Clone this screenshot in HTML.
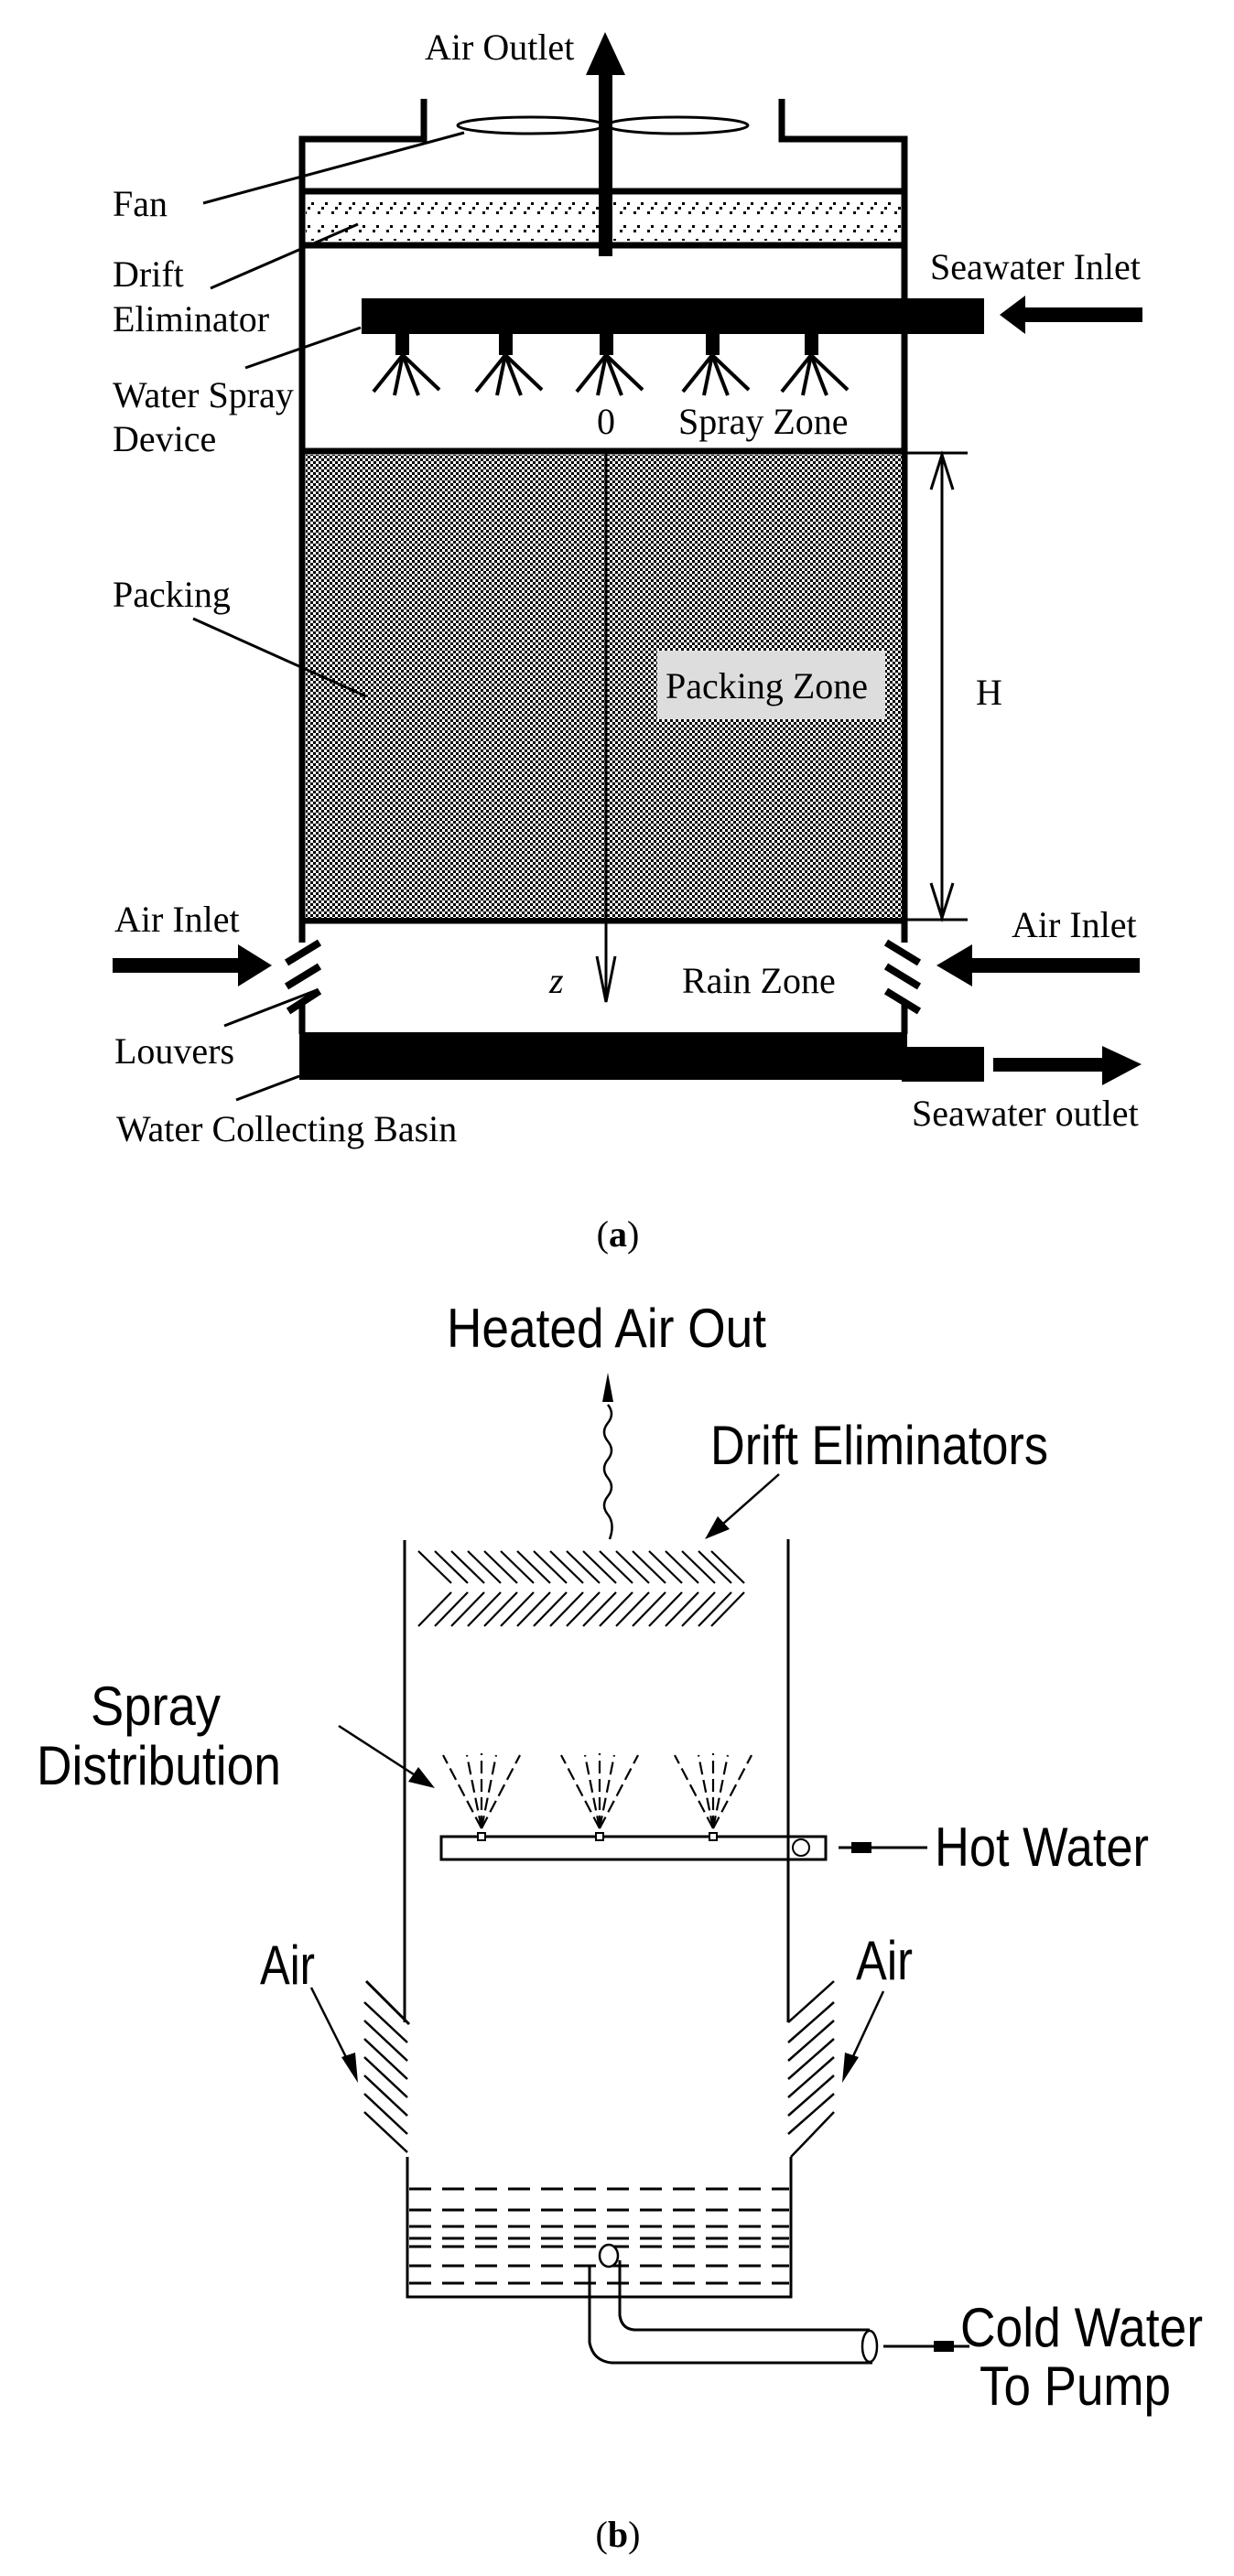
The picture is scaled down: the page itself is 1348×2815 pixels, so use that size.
<!DOCTYPE html>
<html><head><meta charset="utf-8"><style>
html,body{margin:0;padding:0;background:#fff}
svg{display:block}
.t{font-family:"Liberation Serif",serif;font-size:40px;fill:#000}
.s{font-family:"Liberation Sans",sans-serif;fill:#000}
</style></head><body>
<svg width="1348" height="2815" viewBox="0 0 1348 2815" xmlns="http://www.w3.org/2000/svg">
<defs>
<pattern id="chk" width="6" height="6" patternUnits="userSpaceOnUse">
<rect width="6" height="6" fill="#fff"/><rect width="3" height="3" fill="#000"/><rect x="3" y="3" width="3" height="3" fill="#000"/>
</pattern>
<pattern id="drift" width="15" height="20" patternUnits="userSpaceOnUse">
<g fill="#000"><rect x="10" y="1" width="3" height="3"/><rect x="6" y="6" width="3" height="3"/><rect x="2" y="11" width="3" height="3"/></g>
</pattern>
</defs>

<!-- ===== (a) ===== -->
<g stroke="#000" fill="none" stroke-width="7">
<polyline points="330,1030 330,152 463,152 463,108"/>
<polyline points="988,1030 988,152 854,152 854,108"/>
<line x1="330" y1="1097" x2="330" y2="1130"/>
<line x1="988" y1="1093" x2="988" y2="1130"/>
<line x1="330" y1="209" x2="988" y2="209"/>
<line x1="330" y1="268" x2="988" y2="268"/>
<line x1="330" y1="493" x2="988" y2="493"/>
<line x1="330" y1="1006" x2="988" y2="1006"/>
</g>
<rect x="334" y="216" width="650" height="19" fill="url(#drift)"/>
<rect x="334" y="245" width="650" height="18" fill="url(#drift)"/>
<rect x="334" y="497" width="651" height="506" fill="url(#chk)"/>
<ellipse cx="580" cy="137" rx="80" ry="9" fill="#fff" stroke="#000" stroke-width="3"/>
<ellipse cx="740" cy="137" rx="77" ry="9" fill="#fff" stroke="#000" stroke-width="3"/>
<rect x="654" y="78" width="15" height="202" fill="#000"/>
<polygon points="661,35 640,82 683,82" fill="#000"/>
<text class="t" x="464" y="65">Air Outlet</text>
<rect x="395" y="326" width="680" height="39" fill="#000"/>
<g fill="#000"><rect x="432" y="360" width="15" height="28"/><rect x="545" y="360" width="15" height="28"/><rect x="655" y="360" width="15" height="28"/><rect x="771" y="360" width="15" height="28"/><rect x="879" y="360" width="15" height="28"/></g>
<g stroke="#000" stroke-width="4">
<g id="nz"><line x1="440" y1="388" x2="408" y2="428"/><line x1="440" y1="388" x2="431" y2="432"/><line x1="440" y1="388" x2="457" y2="432"/><line x1="440" y1="388" x2="480" y2="426"/></g>
<use href="#nz" x="112"/><use href="#nz" x="222"/><use href="#nz" x="338"/><use href="#nz" x="446"/>
</g>
<text class="t" x="652" y="474">0</text>
<text class="t" x="741" y="474">Spray Zone</text>
<line x1="662" y1="493" x2="662" y2="1093" stroke="#000" stroke-width="3"/>
<polyline points="652,1045 662,1095 672,1045" fill="none" stroke="#000" stroke-width="3"/>
<rect x="718" y="711" width="249" height="75" fill="#ddd"/>
<text class="t" x="727" y="763">Packing Zone</text>
<g stroke="#000" stroke-width="3" fill="none">
<line x1="988" y1="495" x2="1057" y2="495"/><line x1="988" y1="1005" x2="1057" y2="1005"/>
<line x1="1029" y1="497" x2="1029" y2="1003"/>
<polyline points="1017,535 1029,497 1041,535"/><polyline points="1017,965 1029,1003 1041,965"/>
</g>
<text class="t" x="1066" y="770">H</text>
<g stroke="#000" stroke-width="3">
<line x1="222" y1="222" x2="507" y2="145"/>
<line x1="230" y1="315" x2="391" y2="245"/>
<line x1="268" y1="402" x2="394" y2="358"/>
<line x1="211" y1="676" x2="400" y2="761"/>
<line x1="245" y1="1121" x2="346" y2="1082"/>
<line x1="258" y1="1202" x2="327" y2="1176"/>
</g>
<text class="t" x="123" y="236">Fan</text>
<text class="t" x="123" y="313">Drift</text>
<text class="t" x="123" y="362">Eliminator</text>
<text class="t" x="123" y="445">Water Spray</text>
<text class="t" x="123" y="493">Device</text>
<text class="t" x="123" y="663">Packing</text>
<text class="t" x="1016" y="305">Seawater Inlet</text>
<rect x="1118" y="336" width="130" height="16" fill="#000"/>
<polygon points="1092,344 1120,323 1120,365" fill="#000"/>
<g stroke="#000" stroke-width="8">
<line x1="313" y1="1052" x2="349" y2="1030"/><line x1="313" y1="1078" x2="349" y2="1056"/><line x1="315" y1="1105" x2="349" y2="1083"/>
<line x1="968" y1="1030" x2="1004" y2="1052"/><line x1="968" y1="1056" x2="1004" y2="1078"/><line x1="968" y1="1083" x2="1004" y2="1105"/>
</g>
<text class="t" x="125" y="1018">Air Inlet</text>
<rect x="123" y="1047" width="140" height="16" fill="#000"/>
<polygon points="297,1055 260,1032 260,1078" fill="#000"/>
<text class="t" x="1105" y="1024">Air Inlet</text>
<rect x="1060" y="1047" width="185" height="16" fill="#000"/>
<polygon points="1023,1055 1062,1032 1062,1078" fill="#000"/>
<text class="t" x="600" y="1085" font-style="italic">z</text>
<text class="t" x="745" y="1085">Rain Zone</text>
<rect x="327" y="1128" width="664" height="52" fill="#000"/>
<rect x="985" y="1144" width="90" height="38" fill="#000"/>
<rect x="1085" y="1156" width="122" height="15" fill="#000"/>
<polygon points="1247,1163 1204,1143 1204,1186" fill="#000"/>
<text class="t" x="125" y="1162">Louvers</text>
<text class="t" x="127" y="1247">Water Collecting Basin</text>
<text class="t" x="996" y="1230">Seawater outlet</text>
<text class="t" x="675" y="1362" text-anchor="middle" font-size="78">(<tspan font-weight="bold">a</tspan>)</text>

<!-- ===== (b) ===== -->
<text class="s" x="488" y="1472" font-size="60" textLength="349" lengthAdjust="spacingAndGlyphs">Heated Air Out</text>
<path d="M664,1535 q8,10 0,20 q-8,10 0,20 q8,10 0,20 q-8,10 0,20 q8,10 0,20 q-8,10 0,20 q8,10 2,27" fill="none" stroke="#000" stroke-width="2.5"/>
<polygon points="664,1500 658,1532 670,1532" fill="#000"/>
<text class="s" x="776" y="1600" font-size="60" textLength="369" lengthAdjust="spacingAndGlyphs">Drift Eliminators</text>
<line x1="851" y1="1611" x2="790" y2="1665" stroke="#000" stroke-width="2.5"/>
<polygon points="770,1682 784,1657 797,1671" fill="#000"/>
<g stroke="#000" stroke-width="3" fill="none">
<line x1="442" y1="1683" x2="442" y2="2210"/>
<line x1="861" y1="1682" x2="861" y2="2210"/>
<polyline points="400,2165 447,2212"/>
</g>
<g stroke="#000" stroke-width="2.2" fill="none" id="chev">
<polyline points="457,1695 493,1730"/><polyline points="493,1740 457,1777"/>
</g>
<g stroke="#000" stroke-width="2.2">
<use href="#chev" x="18"/><use href="#chev" x="36"/><use href="#chev" x="54"/><use href="#chev" x="72"/><use href="#chev" x="90"/><use href="#chev" x="108"/><use href="#chev" x="126"/><use href="#chev" x="144"/><use href="#chev" x="162"/><use href="#chev" x="180"/><use href="#chev" x="198"/><use href="#chev" x="216"/><use href="#chev" x="234"/><use href="#chev" x="252"/><use href="#chev" x="270"/><use href="#chev" x="288"/><use href="#chev" x="306"/><use href="#chev" x="320"/>
</g>
<text class="s" x="99" y="1885" font-size="60" textLength="142" lengthAdjust="spacingAndGlyphs">Spray</text>
<text class="s" x="40" y="1950" font-size="60" textLength="267" lengthAdjust="spacingAndGlyphs">Distribution</text>
<line x1="370" y1="1886" x2="455" y2="1941" stroke="#000" stroke-width="2.5"/>
<polygon points="475,1954 446,1947 457,1931" fill="#000"/>
<g stroke="#000" stroke-width="2.2" stroke-dasharray="14,6" fill="none" id="fan">
<line x1="526" y1="1998" x2="484" y2="1918"/><line x1="526" y1="1998" x2="510" y2="1918"/><line x1="526" y1="1998" x2="526" y2="1916"/><line x1="526" y1="1998" x2="542" y2="1918"/><line x1="526" y1="1998" x2="568" y2="1918"/>
</g>
<use href="#fan" x="129"/><use href="#fan" x="253"/>
<rect x="482" y="2007" width="420" height="25" fill="none" stroke="#000" stroke-width="3"/>
<g fill="#fff" stroke="#000" stroke-width="2"><rect x="522" y="2003" width="8" height="8"/><rect x="651" y="2003" width="8" height="8"/><rect x="775" y="2003" width="8" height="8"/><circle cx="875" cy="2019" r="9"/></g>
<line x1="916" y1="2019" x2="1013" y2="2019" stroke="#000" stroke-width="3"/>
<rect x="930" y="2013" width="22" height="12" fill="#000"/>
<text class="s" x="1021" y="2039" font-size="60" textLength="234" lengthAdjust="spacingAndGlyphs">Hot Water</text>
<text class="s" x="284" y="2168" font-size="60" textLength="60" lengthAdjust="spacingAndGlyphs">Air</text>
<text class="s" x="935" y="2163" font-size="60" textLength="62" lengthAdjust="spacingAndGlyphs">Air</text>
<line x1="340" y1="2172" x2="385" y2="2262" stroke="#000" stroke-width="2.5"/>
<polygon points="391,2276 373,2248 388,2243" fill="#000"/>
<line x1="965" y1="2176" x2="925" y2="2262" stroke="#000" stroke-width="2.5"/>
<polygon points="920,2276 923,2243 938,2248" fill="#000"/>
<g stroke="#000" stroke-width="2.5">
<line x1="398" y1="2188" x2="445" y2="2232"/><line x1="398" y1="2208" x2="445" y2="2252"/><line x1="398" y1="2228" x2="445" y2="2272"/><line x1="398" y1="2248" x2="445" y2="2292"/><line x1="398" y1="2268" x2="445" y2="2312"/><line x1="398" y1="2288" x2="445" y2="2332"/><line x1="398" y1="2308" x2="445" y2="2352"/>
</g>
<g stroke="#000" stroke-width="2.5">
<line x1="911" y1="2165" x2="861" y2="2210"/>
<line x1="911" y1="2188" x2="861" y2="2232"/><line x1="911" y1="2208" x2="861" y2="2252"/><line x1="911" y1="2228" x2="861" y2="2272"/><line x1="911" y1="2248" x2="861" y2="2292"/><line x1="911" y1="2268" x2="861" y2="2312"/><line x1="911" y1="2288" x2="861" y2="2332"/><line x1="911" y1="2308" x2="864" y2="2357"/>
</g>
<polyline points="445,2357 445,2510 864,2510 864,2357" fill="none" stroke="#000" stroke-width="3"/>
<g stroke="#000" stroke-width="3" stroke-dasharray="24,12">
<line x1="447" y1="2392" x2="862" y2="2392"/><line x1="447" y1="2415" x2="862" y2="2415"/><line x1="447" y1="2433" x2="862" y2="2433"/><line x1="447" y1="2446" x2="862" y2="2446"/><line x1="447" y1="2455" x2="862" y2="2455"/><line x1="447" y1="2476" x2="862" y2="2476"/><line x1="447" y1="2495" x2="862" y2="2495"/>
</g>
<path d="M644,2475 L644,2560 Q648,2580 668,2582 L953,2582 M677,2470 L677,2530 Q679,2545 693,2546 L950,2546" fill="none" stroke="#000" stroke-width="3"/>
<ellipse cx="665" cy="2465" rx="10" ry="12" fill="#fff" stroke="#000" stroke-width="2.5"/>
<ellipse cx="950" cy="2564" rx="8" ry="17" fill="none" stroke="#000" stroke-width="2.5"/>
<line x1="965" y1="2564" x2="1059" y2="2564" stroke="#000" stroke-width="3"/>
<rect x="1020" y="2558" width="22" height="12" fill="#000"/>
<text class="s" x="1049" y="2564" font-size="60" textLength="265" lengthAdjust="spacingAndGlyphs">Cold Water</text>
<text class="s" x="1070" y="2628" font-size="60" textLength="209" lengthAdjust="spacingAndGlyphs">To Pump</text>
<text class="t" x="675" y="2783" text-anchor="middle" font-size="78">(<tspan font-weight="bold">b</tspan>)</text>
</svg>
</body></html>
